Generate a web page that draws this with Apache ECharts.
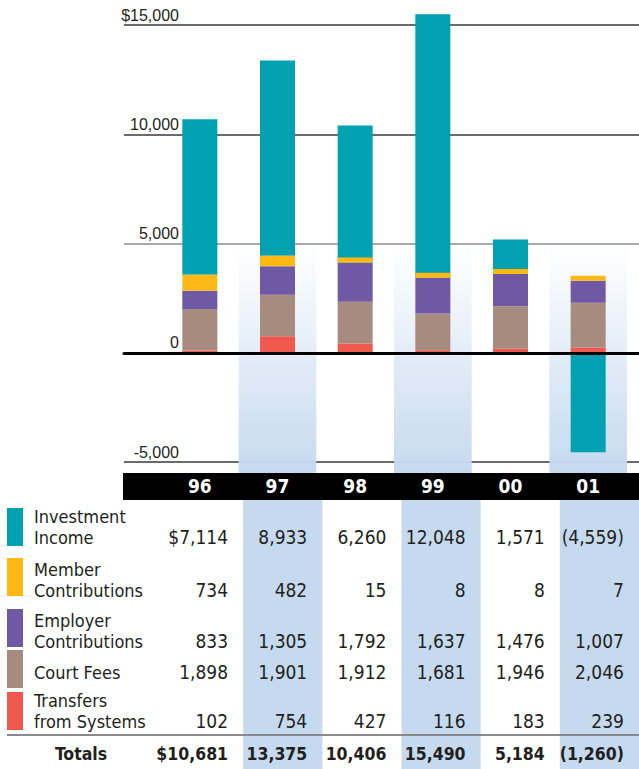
<!DOCTYPE html>
<html>
<head>
<meta charset="utf-8">
<script src="https://cdn.jsdelivr.net/npm/echarts@6/dist/echarts.min.js"></script>
<style>
html, body { margin: 0; padding: 0; background: #fff; }
#chart { width: 639px; height: 769px; }
</style>
</head>
<body>
<div id="chart"></div>
<script>
// data (thousands of dollars)
const years = ['96', '97', '98', '99', '00', '01'];
const rowLabels = ['Investment\nIncome', 'Member\nContributions', 'Employer\nContributions', 'Court Fees', 'Transfers\nfrom Systems'];
const investmentIncome = [7114, 8933, 6260, 12048, 1571, -4559];
const memberContributions = [734, 482, 15, 8, 8, 7];
const employerContributions = [833, 1305, 1792, 1637, 1476, 1007];
const courtFees = [1898, 1901, 1912, 1681, 1946, 2046];
const transfers = [102, 754, 427, 116, 183, 239];
const totals = [10681, 13375, 10406, 15490, 5184, -1260];
const shadedYears = ['97', '99', '01'];
const yTickLabels = { '-5000': '-5,000', '0': '0', '5000': '5,000', '10000': '10,000', '15000': '$15,000' };

const rows = [investmentIncome, memberContributions, employerContributions, courtFees, transfers];
const colors = ['#00a1b1', '#fdb813', '#7059a4', '#a68b7e', '#f05a4e'];

// layout of the table part
const rowY = [537, 590, 641, 672, 721];
const swatchTop = [508, 558, 609, 650, 692];
const totalsY = 754;
const narrow = '"Liberation Sans Narrow", "DejaVu Sans Condensed", sans-serif';
const textColor = '#231f20';

function fmt(v, dollar) {
  let s = Math.abs(v).toLocaleString('en-US');
  if (v < 0) return '(' + s + ')';
  return dollar ? '$' + s : s;
}

const chart = echarts.init(document.getElementById('chart'), null, { renderer: 'svg' });

// bars stacked bottom-up: transfers, court fees, employer, member, investment
const barSeries = [4, 3, 2, 1, 0].map(r => ({
  name: rowLabels[r],
  type: 'bar',
  xAxisIndex: 1,
  yAxisIndex: 1,
  stack: 'total',
  barWidth: 35,
  clip: false,
  // the thin member slices are still drawn as a visible band
  barMinHeight: r === 1 ? 5 : 0,
  itemStyle: { color: colors[r] },
  data: rows[r],
  z: r === 1 ? 3 : 2
}));

function renderChartShade(params, api) {
  const i = api.value(0);
  const cx = api.coord([i, 0])[0];
  const w = api.size([1, 0])[0];
  const top = api.coord([i, 5000])[1];
  const bottom = 500;
  return {
    type: 'rect',
    shape: { x: cx - w / 2, y: top, width: w, height: bottom - top },
    style: {
      fill: new echarts.graphic.LinearGradient(0, 0, 0, 1, [
        { offset: 0, color: 'rgba(197,217,239,0)' },
        { offset: 0.9, color: 'rgba(197,217,239,1)' },
        { offset: 1, color: 'rgba(197,217,239,1)' }
      ])
    }
  };
}

function renderTable(params, api) {
  const i = api.value(0);
  const cx = api.coord([i, 0])[0];
  const w = api.size([1, 0])[0];
  const children = [];
  if (shadedYears.indexOf(years[i]) >= 0) {
    children.push({
      type: 'rect',
      shape: { x: cx - w / 2, y: params.coordSys.y, width: w, height: params.coordSys.height },
      style: { fill: '#c5d9ef' }
    });
  }
  rows.forEach((arr, r) => {
    children.push({
      type: 'text',
      style: {
        x: cx + 24.5, y: rowY[r], text: fmt(arr[i], i === 0 && r === 0),
        align: 'right', verticalAlign: 'middle',
        font: '19px ' + narrow, fill: textColor
      }
    });
  });
  children.push({
    type: 'text',
    style: {
      x: cx + 24.5, y: totalsY, text: fmt(totals[i], i === 0),
      align: 'right', verticalAlign: 'middle',
      font: 'bold 17.5px ' + narrow, fill: textColor
    }
  });
  return { type: 'group', children: children };
}

const graphics = [
  { type: 'rect', shape: { x: 123, y: 473, width: 516, height: 27 }, style: { fill: '#000' }, z: 5 },
  { type: 'line', shape: { x1: 7, y1: 735, x2: 639, y2: 735 }, style: { stroke: '#8a8a8a', lineWidth: 2 }, z: 5 },
  {
    type: 'text', x: 81, y: totalsY, z: 5,
    style: { text: 'Totals', align: 'center', verticalAlign: 'middle', font: 'bold 17.5px ' + narrow, fill: textColor }
  }
];
rowLabels.forEach((label, r) => {
  graphics.push({ type: 'rect', shape: { x: 7, y: swatchTop[r], width: 16, height: 38 }, style: { fill: colors[r] }, z: 5 });
  graphics.push({
    type: 'text', x: 34, y: rowY[r] + 11, z: 5,
    style: { text: label, align: 'left', verticalAlign: 'bottom', lineHeight: 21, font: '18px ' + narrow, fill: textColor }
  });
});

chart.setOption({
  animation: false,
  grid: [
    { left: 124, right: 0, top: 25, bottom: 307 },   // axis frame
    { left: 161, right: 12, top: 25, bottom: 307 },  // bars
    { left: 164, right: -4, top: 500, bottom: 0 }    // table
  ],
  xAxis: [
    {
      gridIndex: 0, type: 'value', min: 0, max: 1, z: 10,
      axisLine: { show: true, onZero: true, lineStyle: { color: '#000', width: 3 } },
      axisTick: { show: false }, axisLabel: { show: false }, splitLine: { show: false }
    },
    {
      gridIndex: 1, type: 'category', data: years, z: 10,
      axisLine: { show: false }, axisTick: { show: false }, splitLine: { show: false },
      axisLabel: {
        margin: 24, verticalAlign: 'middle', color: '#fff',
        fontFamily: narrow, fontWeight: 'bold', fontSize: 19
      }
    },
    {
      gridIndex: 2, type: 'category', data: years, show: false
    }
  ],
  yAxis: [
    {
      gridIndex: 0, type: 'value', min: -5000, max: 15000, interval: 5000,
      axisLine: { show: false }, axisTick: { show: false },
      splitLine: { lineStyle: { color: ['#3a3a3a', '#000', '#8c8c8c', '#3a3a3a', '#3a3a3a'], width: 1.5 } },
      axisLabel: {
        inside: true, margin: 55, align: 'right', verticalAlign: 'bottom',
        padding: [0, 0, 2, 0], color: textColor, fontFamily: '"Liberation Sans", Arial, sans-serif', fontSize: 16,
        formatter: v => yTickLabels[String(v)]
      }
    },
    { gridIndex: 1, type: 'value', min: -5000, max: 15000, show: false },
    { gridIndex: 2, type: 'value', min: 0, max: 1, show: false }
  ],
  series: [
    {
      type: 'custom', xAxisIndex: 1, yAxisIndex: 1, z: 1, silent: true, clip: false,
      renderItem: renderChartShade,
      encode: { x: 0, y: 1 },
      data: shadedYears.map(y => [years.indexOf(y), 0])
    },
    ...barSeries,
    {
      type: 'custom', xAxisIndex: 2, yAxisIndex: 2, z: 2, silent: true, clip: false,
      renderItem: renderTable,
      encode: { x: 0, y: 1 },
      data: years.map((y, i) => [i, 0])
    }
  ],
  graphic: graphics
});
</script>
</body>
</html>
